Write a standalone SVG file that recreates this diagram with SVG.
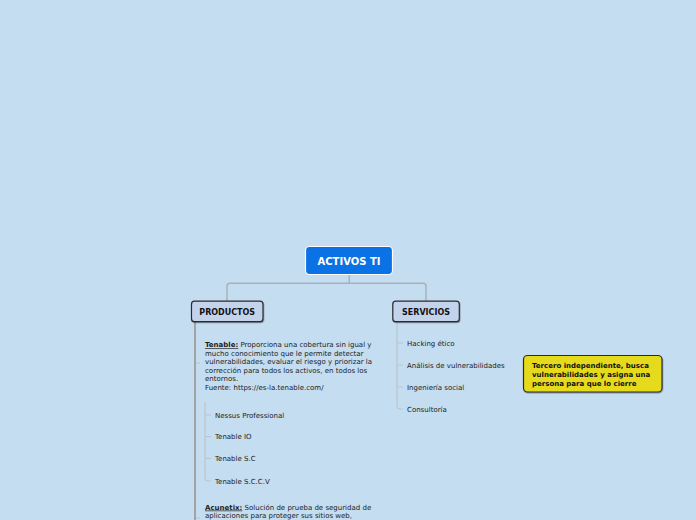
<svg xmlns="http://www.w3.org/2000/svg" width="696" height="520" viewBox="0 0 696 520">
<style>
text{font-family:"DejaVu Sans",Verdana,sans-serif;fill:#222;}
.t{font-size:7px;}
.b{font-weight:bold;}
.u{text-decoration:underline;font-weight:bold;}
.main{fill:none;stroke:#a9b2ba;stroke-width:1.5;}
.trunk{fill:none;stroke:#a3a3a3;stroke-width:2;}
.lite{fill:none;stroke:#bcc6cf;stroke-width:1.2;}
.sub{fill:#c3d3ec;stroke:#2b2b2b;stroke-width:1.2;}
</style>
<defs>
<filter id="sh" x="-10%" y="-10%" width="130%" height="140%">
<feDropShadow dx="0.5" dy="1" stdDeviation="0.6" flood-color="#000" flood-opacity="0.35"/>
</filter>
</defs>
<rect width="696" height="520" fill="#c4ddf0"/>
<g id="connectors">
<path class="main" d="M349.3 274.5 V283.3"/>
<path class="main" d="M227 301 V286.3 Q227 283.3 230 283.3 H423 Q426 283.3 426 286.3 V301"/>
<path class="trunk" d="M195 322 V520"/>
<path class="lite" d="M196 363 H200"/>
<path class="lite" d="M196 518 H200"/>
<path class="lite" d="M205 402 V478 Q205 481 208 481 H211"/>
<path class="lite" d="M205 415 H211 M205 436.7 H211 M205 458.3 H211"/>
<path class="lite" d="M397 322 V406 Q397 409 400 409 H403"/>
<path class="lite" d="M397 343 H403 M397 365 H403 M397 387 H403"/>
</g>
<g id="activos">
<rect x="305.5" y="246.5" width="87" height="28" rx="4" fill="#0a72e4" stroke="#ffffff" stroke-width="1.2"/>
<text x="349" y="264.6" text-anchor="middle" class="b" style="font-size:10px;fill:#fff">ACTIVOS TI</text>
</g>
<g id="productos">
<rect class="sub" x="191.5" y="301.2" width="71.5" height="20.5" rx="3" filter="url(#sh)"/>
<text x="227.2" y="314.9" text-anchor="middle" class="b" style="font-size:8px;fill:#111">PRODUCTOS</text>
</g>
<g id="servicios">
<rect class="sub" x="392.8" y="301.2" width="66.5" height="20.5" rx="3" filter="url(#sh)"/>
<text x="426" y="314.9" text-anchor="middle" class="b" style="font-size:8px;fill:#111">SERVICIOS</text>
</g>
<g id="tenable">
<text class="t" x="205" y="347"><tspan class="u">Tenable:</tspan> Proporciona una cobertura sin igual y</text>
<text class="t" x="205" y="355.5">mucho conocimiento que le permite detectar</text>
<text class="t" x="205" y="364">vulnerabilidades, evaluar el riesgo y priorizar la</text>
<text class="t" x="205" y="372.5">corrección para todos los activos, en todos los</text>
<text class="t" x="205" y="381">entornos.</text>
<text class="t" x="205" y="389.5">Fuente: https://es-la.tenable.com/</text>
</g>
<g id="nessus"><text class="t" x="215" y="417.5">Nessus Professional</text></g>
<g id="tenableio"><text class="t" x="215" y="439.2">Tenable IO</text></g>
<g id="tenablesc"><text class="t" x="215" y="460.8">Tenable S.C</text></g>
<g id="tenablesccv"><text class="t" x="215" y="483.5">Tenable S.C.C.V</text></g>
<g id="acunetix">
<text class="t" x="205" y="509.5"><tspan class="u">Acunetix:</tspan> Solución de prueba de seguridad de</text>
<text class="t" x="205" y="518">aplicaciones para proteger sus sitios web,</text>
</g>
<g id="hacking"><text class="t" x="407" y="345.5">Hacking ético</text></g>
<g id="analisis"><text class="t" x="407" y="367.5">Análisis de vulnerabilidades</text></g>
<g id="ingenieria"><text class="t" x="407" y="389.5">Ingeniería social</text></g>
<g id="consultoria"><text class="t" x="407" y="411.5">Consultoría</text></g>
<g id="nota">
<rect x="523.5" y="355.5" width="138.5" height="36.5" rx="4" fill="#e6da1e" stroke="#2b2b2b" stroke-width="1.2" filter="url(#sh)"/>
<text class="t b" x="532" y="368.3" style="fill:#111">Tercero independiente, busca</text>
<text class="t b" x="532" y="377" style="fill:#111">vulnerabilidades y asigna una</text>
<text class="t b" x="532" y="385.7" style="fill:#111">persona para que lo cierre</text>
</g>
</svg>
